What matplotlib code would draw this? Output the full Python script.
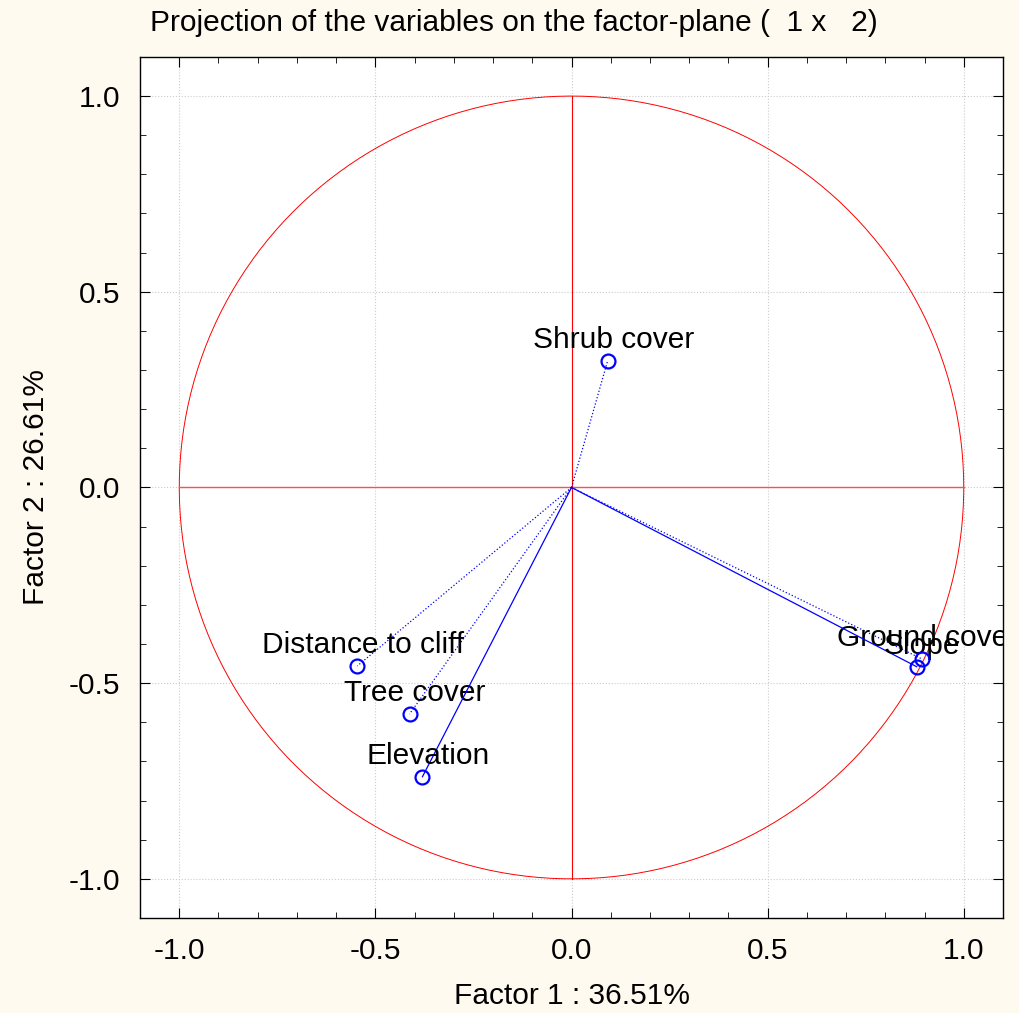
import numpy as np
import matplotlib
matplotlib.use("Agg")
import matplotlib.pyplot as plt
from matplotlib.ticker import MultipleLocator

# Factor loadings
variables = ["Shrub cover", "Distance to cliff", "Tree cover", "Elevation",
             "Ground cover", "Slope"]
factor1 = [0.092, -0.546, -0.413, -0.380, 0.893, 0.880]
factor2 = [0.323, -0.456, -0.579, -0.739, -0.438, -0.458]
line_styles = [":", ":", ":", "-", ":", "-"]

plt.rcParams["font.family"] = ["Liberation Sans", "DejaVu Sans"]
FS = 21.5

fig = plt.figure(figsize=(10.2, 10.13), dpi=100, facecolor="#FFFAF0")
ax = fig.add_axes([0.1373, 0.0938, 0.846, 0.85])
ax.set_facecolor("white")

# unit circle and axes cross
t = np.linspace(0, 2 * np.pi, 400)
ax.plot(np.cos(t), np.sin(t), color="red", lw=0.7, zorder=2)
ax.axhline(0, xmin=0.1 / 2.2, xmax=2.1 / 2.2, color="#ff5050", lw=1.0,
           zorder=2.5)
ax.plot([0, 0], [-1, 1], color="red", lw=0.8, zorder=2)

for name, x, y, ls in zip(variables, factor1, factor2, line_styles):
    ax.plot([0, x], [0, y], color="blue", lw=0.9, ls=ls, zorder=3)
    ax.plot(x, y, "o", mfc="none", mec="blue", mew=1.6, ms=10, zorder=4)
    ax.annotate(name, (x, y), xytext=(4, 5), textcoords="offset points",
                ha="center", va="bottom", fontsize=FS, clip_on=True,
                annotation_clip=True)

ax.set_xlim(-1.1, 1.1)
ax.set_ylim(-1.1, 1.1)
for axis in (ax.xaxis, ax.yaxis):
    axis.set_major_locator(MultipleLocator(0.5))
    axis.set_minor_locator(MultipleLocator(0.1))
ax.xaxis.set_major_formatter(lambda v, p: f"{v:.1f}")
ax.yaxis.set_major_formatter(lambda v, p: f"{v:.1f}")
ax.tick_params(which="both", direction="in", top=True, right=True,
               labelsize=FS, pad=14)
ax.tick_params(which="major", length=7)
ax.tick_params(which="minor", length=4)
ax.grid(True, which="major", color="0.8", ls=":", lw=0.8)
for s in ax.spines.values():
    s.set_linewidth(1.0)

ax.set_xlabel("Factor 1 : 36.51%", fontsize=FS, labelpad=12)
ax.set_ylabel("Factor 2 : 26.61%", fontsize=FS, labelpad=14)
fig.text(514 / 1020, 1 - 23 / 1013,
         "Projection of the variables on the factor-plane (  1 x   2)",
         ha="center", va="center", fontsize=FS)

fig.savefig("out.png", dpi=100, facecolor=fig.get_facecolor())
